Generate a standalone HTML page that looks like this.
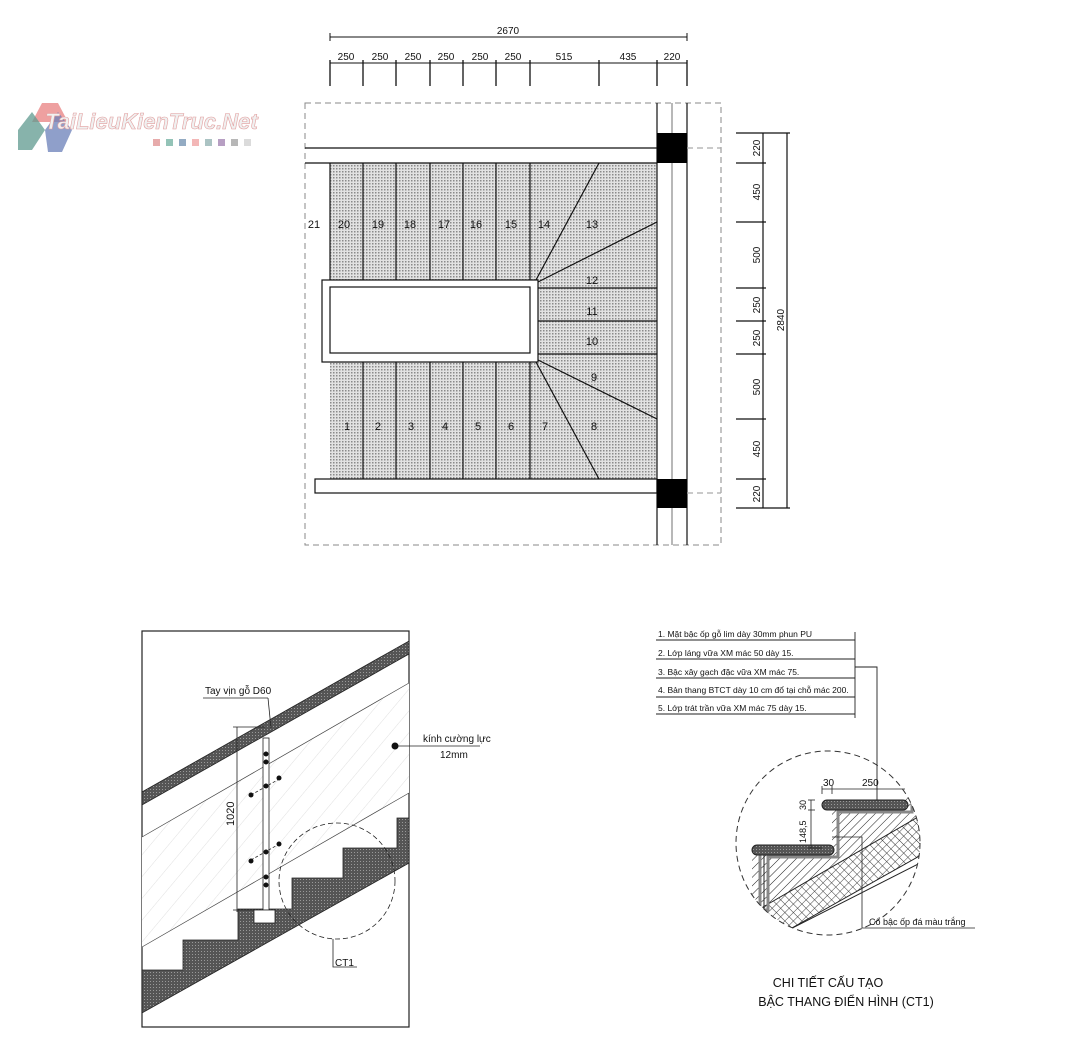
<!DOCTYPE html>
<html><head><meta charset="utf-8"><style>
html,body{margin:0;padding:0;background:#fff}
svg{display:block}
text{font-family:"Liberation Sans","DejaVu Sans",sans-serif;fill:#111}
</style></head><body>
<svg width="1080" height="1058" viewBox="0 0 1080 1058" xmlns="http://www.w3.org/2000/svg">
<defs>
<pattern id="dots" width="3" height="3" patternUnits="userSpaceOnUse"><rect width="3" height="3" fill="#e2e2e2"/><rect width="1.5" height="1.5" fill="#8a8a8a"/></pattern>
<pattern id="dark" width="3" height="3" patternUnits="userSpaceOnUse"><rect width="3" height="3" fill="#555"/><rect width="1" height="1" fill="#999"/></pattern>
<pattern id="diag" width="6" height="6" patternUnits="userSpaceOnUse" patternTransform="rotate(45)"><rect width="6" height="6" fill="#fff"/><line x1="0" y1="0" x2="0" y2="6" stroke="#222" stroke-width="1"/></pattern>
<pattern id="grid" width="6" height="6" patternUnits="userSpaceOnUse" patternTransform="rotate(45)"><rect width="6" height="6" fill="#fff"/><path d="M0 0H6M0 0V6" stroke="#333" stroke-width="0.9"/></pattern>
<pattern id="glass" width="14" height="14" patternUnits="userSpaceOnUse" patternTransform="rotate(40)"><rect width="14" height="14" fill="#fff"/><line x1="0" y1="0" x2="0" y2="14" stroke="#ccc" stroke-width="0.6"/></pattern>
<clipPath id="cc"><circle cx="828" cy="843" r="92"/></clipPath>
</defs>

<!-- logo -->
<polygon points="42,103 58,103 68,122 32,122" fill="#e88080" opacity="0.75"/>
<polygon points="18,130 32,112 45,130 32,150 18,150" fill="#5f9a8f" opacity="0.75"/>
<polygon points="45,130 58,112 72,130 62,152 48,152" fill="#6a7fb8" opacity="0.75"/>
<text x="45" y="129" font-size="22" font-style="italic" font-weight="bold" style="fill:#f0f0f0;stroke:#e2a0a0;stroke-width:0.6">TaiLieuKienTruc.Net</text>
<g opacity="0.7"><rect x="153" y="139" width="7" height="7" fill="#d88"/><rect x="166" y="139" width="7" height="7" fill="#6a9"/><rect x="179" y="139" width="7" height="7" fill="#68a"/><rect x="192" y="139" width="7" height="7" fill="#e99"/><rect x="205" y="139" width="7" height="7" fill="#8aa"/><rect x="218" y="139" width="7" height="7" fill="#97a"/><rect x="231" y="139" width="7" height="7" fill="#999"/><rect x="244" y="139" width="7" height="7" fill="#ccc"/></g>

<!-- PLAN -->
<g stroke="#111" stroke-width="1" fill="none">
<line x1="330" y1="37" x2="687" y2="37"/>
<line x1="330" y1="33" x2="330" y2="41"/><line x1="687" y1="33" x2="687" y2="41"/>
<line x1="330" y1="63" x2="687" y2="63"/>
<g stroke-width="1.3">
<line x1="330" y1="60" x2="330" y2="86"/><line x1="363" y1="60" x2="363" y2="86"/><line x1="396" y1="60" x2="396" y2="86"/><line x1="430" y1="60" x2="430" y2="86"/><line x1="463" y1="60" x2="463" y2="86"/><line x1="496" y1="60" x2="496" y2="86"/><line x1="530" y1="60" x2="530" y2="86"/><line x1="599" y1="60" x2="599" y2="86"/><line x1="657" y1="60" x2="657" y2="86"/><line x1="687" y1="60" x2="687" y2="86"/>
</g>
<rect x="305" y="103" width="416" height="442" stroke="#888" stroke-dasharray="6,4"/>
</g>
<g font-size="10" text-anchor="middle">
<text x="508" y="34">2670</text>
<text x="346" y="60">250</text><text x="380" y="60">250</text><text x="413" y="60">250</text><text x="446" y="60">250</text><text x="480" y="60">250</text><text x="513" y="60">250</text><text x="564" y="60">515</text><text x="628" y="60">435</text><text x="672" y="60">220</text>
</g>
<rect x="330" y="163" width="327" height="316" fill="url(#dots)"/>
<g stroke="#111" fill="none" stroke-width="1.2">
<line x1="305" y1="148" x2="657" y2="148"/><line x1="305" y1="163" x2="657" y2="163"/>
<line x1="330" y1="163" x2="330" y2="280"/>
<rect x="322" y="280" width="216" height="82" fill="#fff"/>
<rect x="330" y="287" width="200" height="66" fill="#fff"/>
<rect x="315" y="479" width="342" height="14" fill="#fff"/>
<line x1="657" y1="103" x2="657" y2="545"/><line x1="687" y1="103" x2="687" y2="545"/>
<line x1="672" y1="103" x2="672" y2="545" stroke-width="0.6"/>
<line x1="687" y1="148" x2="721" y2="148" stroke="#aaa" stroke-dasharray="6,4"/><line x1="687" y1="493" x2="721" y2="493" stroke="#aaa" stroke-dasharray="6,4"/>
<g>
<line x1="363" y1="163" x2="363" y2="280"/><line x1="396" y1="163" x2="396" y2="280"/><line x1="430" y1="163" x2="430" y2="280"/><line x1="463" y1="163" x2="463" y2="280"/><line x1="496" y1="163" x2="496" y2="280"/><line x1="530" y1="163" x2="530" y2="280"/>
<line x1="363" y1="362" x2="363" y2="479"/><line x1="396" y1="362" x2="396" y2="479"/><line x1="430" y1="362" x2="430" y2="479"/><line x1="463" y1="362" x2="463" y2="479"/><line x1="496" y1="362" x2="496" y2="479"/><line x1="530" y1="362" x2="530" y2="479"/>
<line x1="536" y1="280" x2="599" y2="163"/><line x1="538" y1="282" x2="657" y2="222"/>
<line x1="538" y1="288" x2="657" y2="288"/><line x1="538" y1="321" x2="657" y2="321"/><line x1="538" y1="354" x2="657" y2="354"/>
<line x1="538" y1="360" x2="657" y2="419"/><line x1="536" y1="362" x2="599" y2="479"/>
</g>
</g>
<rect x="657" y="133" width="30" height="30" fill="#000"/>
<rect x="657" y="479" width="30" height="29" fill="#000"/>
<g font-size="11" text-anchor="middle">
<text x="314" y="228">21</text><text x="344" y="228">20</text><text x="378" y="228">19</text><text x="410" y="228">18</text><text x="444" y="228">17</text><text x="476" y="228">16</text><text x="511" y="228">15</text><text x="544" y="228">14</text><text x="592" y="228">13</text>
<text x="592" y="284">12</text><text x="592" y="315">11</text><text x="592" y="345">10</text><text x="594" y="381">9</text>
<text x="347" y="430">1</text><text x="378" y="430">2</text><text x="411" y="430">3</text><text x="445" y="430">4</text><text x="478" y="430">5</text><text x="511" y="430">6</text><text x="545" y="430">7</text><text x="594" y="430">8</text>
</g>
<g stroke="#111" stroke-width="1.2">
<line x1="763" y1="133" x2="763" y2="508"/><line x1="787" y1="133" x2="787" y2="508"/>
<line x1="736" y1="133" x2="790" y2="133"/><line x1="736" y1="163" x2="766" y2="163"/><line x1="736" y1="222" x2="766" y2="222"/><line x1="736" y1="288" x2="766" y2="288"/><line x1="736" y1="321" x2="766" y2="321"/><line x1="736" y1="354" x2="766" y2="354"/><line x1="736" y1="419" x2="766" y2="419"/><line x1="736" y1="479" x2="766" y2="479"/><line x1="736" y1="508" x2="790" y2="508"/>
</g>
<g font-size="10" text-anchor="middle">
<text transform="translate(760,148) rotate(-90)">220</text>
<text transform="translate(760,192) rotate(-90)">450</text>
<text transform="translate(760,255) rotate(-90)">500</text>
<text transform="translate(760,305) rotate(-90)">250</text>
<text transform="translate(760,338) rotate(-90)">250</text>
<text transform="translate(760,387) rotate(-90)">500</text>
<text transform="translate(760,449) rotate(-90)">450</text>
<text transform="translate(760,494) rotate(-90)">220</text>
<text transform="translate(784,320) rotate(-90)">2840</text>
</g>

<!-- SECTION LEFT -->
<rect x="142" y="631" width="267" height="396" fill="#fff" stroke="#222" stroke-width="1.2"/>
<polygon points="142,837 409,683 409,793 142,947" fill="url(#glass)"/>
<line x1="142" y1="837" x2="409" y2="683" stroke="#444" stroke-width="0.7"/>
<line x1="142" y1="947" x2="409" y2="793" stroke="#444" stroke-width="0.7"/>
<polygon points="142,792 409,641 409,654 142,805" fill="url(#dark)" stroke="#222" stroke-width="0.8"/>
<polygon points="142,970 183,970 183,940 238,940 238,909 292,909 292,878 343,878 343,848 397,848 397,818 409,818 409,863 142,1013" fill="url(#dark)" stroke="#222" stroke-width="0.8"/>
<g stroke="#222" stroke-width="0.8" fill="none">
<line x1="237" y1="727" x2="237" y2="912"/><line x1="233" y1="727" x2="265" y2="727"/><line x1="233" y1="910" x2="255" y2="910"/>
<rect x="263" y="738" width="6" height="172" fill="#fff"/>
<rect x="254" y="910" width="21" height="13" fill="#fff"/>
<line x1="203" y1="698" x2="268" y2="698"/><line x1="268" y1="698" x2="271" y2="728"/>
<line x1="395" y1="746" x2="480" y2="746"/>
<line x1="251" y1="795" x2="281" y2="778" stroke-dasharray="3,2"/><line x1="251" y1="860" x2="281" y2="843" stroke-dasharray="3,2"/>
<circle cx="337" cy="881" r="58" stroke-dasharray="5,3"/>
<polyline points="333,939 333,967 357,967"/>
</g>
<g fill="#111">
<circle cx="266" cy="754" r="2.5"/><circle cx="266" cy="762" r="2.5"/><circle cx="279" cy="778" r="2.5"/><circle cx="266" cy="786" r="2.5"/><circle cx="251" cy="795" r="2.5"/>
<circle cx="279" cy="844" r="2.5"/><circle cx="266" cy="852" r="2.5"/><circle cx="251" cy="861" r="2.5"/><circle cx="266" cy="877" r="2.5"/><circle cx="266" cy="885" r="2.5"/>
<circle cx="395" cy="746" r="3.5"/>
</g>
<g font-size="10">
<text x="205" y="694">Tay vịn gỗ D60</text>
<text x="423" y="742">kính cường lực</text>
<text x="440" y="758">12mm</text>
<text x="335" y="966">CT1</text>
<text transform="translate(234,826) rotate(-90)" font-size="11">1020</text>
</g>

<!-- DETAIL RIGHT -->
<g font-size="8.5">
<text x="658" y="637">1. Mặt bậc ốp gỗ lim dày 30mm phun PU</text>
<text x="658" y="656">2. Lớp láng vữa XM mác 50 dày 15.</text>
<text x="658" y="675">3. Bậc xây gạch đặc vữa XM mác 75.</text>
<text x="658" y="693">4. Bản thang BTCT dày 10 cm đổ tại chỗ mác 200.</text>
<text x="658" y="711">5. Lớp trát trần vữa XM mác 75 dày 15.</text>
</g>
<g stroke="#222" stroke-width="0.9" fill="none">
<line x1="656" y1="640" x2="855" y2="640"/><line x1="656" y1="659" x2="855" y2="659"/><line x1="656" y1="678" x2="855" y2="678"/><line x1="656" y1="697" x2="855" y2="697"/><line x1="656" y1="714" x2="855" y2="714"/>
<line x1="855" y1="632" x2="855" y2="718"/>
<polyline points="855,667 877,667 877,865"/>
</g>
<g clip-path="url(#cc)">
<polygon points="700,960 763,907 930,810 930,740 905,758 905,803 832,803 832,848 752,848 752,960" fill="url(#diag)"/>
<polygon points="763,907 930,810 930,850 783,933 700,990" fill="url(#grid)" stroke="#222"/>
<line x1="700" y1="975" x2="930" y2="858" stroke="#222"/>
<polyline points="760,848 760,910 768,910 768,857 838,857 838,812 912,812 912,762" fill="none" stroke="#888" stroke-width="3"/>
<polyline points="764,852 764,910 M832,852 832,810 M905,806 905,760" fill="none" stroke="#222"/>
<rect x="752" y="845" width="82" height="10" rx="5" fill="url(#dark)" stroke="#222"/>
<rect x="822" y="800" width="86" height="10" rx="5" fill="url(#dark)" stroke="#222"/>
<rect x="895" y="755" width="40" height="10" rx="5" fill="url(#dark)" stroke="#222"/>
</g>
<circle cx="828" cy="843" r="92" fill="none" stroke="#333" stroke-dasharray="6,4"/>
<g stroke="#222" stroke-width="0.8" fill="none">
<line x1="822" y1="789" x2="905" y2="789"/><line x1="822" y1="786" x2="822" y2="794"/><line x1="832" y1="786" x2="832" y2="794"/>
<line x1="808" y1="800" x2="815" y2="800"/><line x1="808" y1="810" x2="815" y2="810"/><line x1="811" y1="800" x2="811" y2="848"/><line x1="808" y1="848" x2="822" y2="848"/>
<polyline points="832,837 862,837 862,928 975,928"/>
</g>
<g font-size="10">
<text x="823" y="786">30</text><text x="862" y="786">250</text>
<text transform="translate(806,810) rotate(-90)" font-size="9">30</text>
<text transform="translate(806,843) rotate(-90)" font-size="9">148,5</text>
<text x="869" y="925" font-size="9">Cổ bậc ốp đá màu trắng</text>
</g>
<text x="828" y="987" font-size="12.5" text-anchor="middle">CHI TIẾT CẤU TẠO</text>
<text x="846" y="1006" font-size="12.5" text-anchor="middle">BẬC THANG ĐIỂN HÌNH (CT1)</text>
</svg>
</body></html>
